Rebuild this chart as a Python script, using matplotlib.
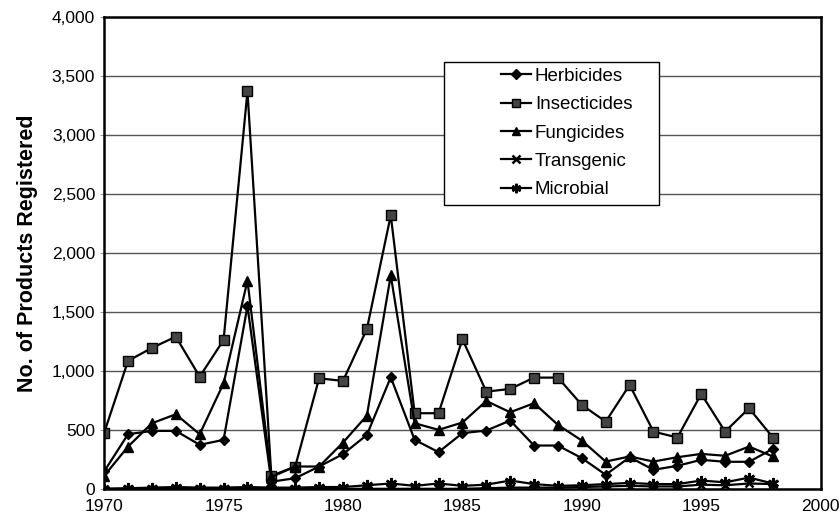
import matplotlib.pyplot as plt
import numpy as np
from matplotlib.ticker import FuncFormatter
from matplotlib.patches import Rectangle

plt.rcParams['font.family'] = ['Liberation Sans', 'DejaVu Sans']

# data
years = list(range(1970, 1999))
herbicides = [147, 463, 491, 491, 373, 415, 1550, 60, 90, 189, 294, 457,
              946, 415, 311, 472, 494, 579, 367, 367, 260, 119, 268, 161,
              195, 246, 229, 229, 339]
insecticides = [475, 1085, 1195, 1290, 951, 1262, 3371, 110, 189, 937, 915, 1355,
                2320, 641, 641, 1268, 824, 847, 943, 943, 711, 570, 881, 485,
                435, 805, 485, 683, 435]
fungicides = [110, 358, 556, 632, 463, 895, 1765, 100, 189, 189, 392, 621,
              1810, 556, 500, 562, 745, 649, 726, 542, 409, 231, 274, 231,
              268, 296, 280, 358, 274]
transgenic = [0, 0, 0, 0, 0, 0, 0, 0, 0, 0, 0, 0,
              0, 0, 0, 0, 5, 10, 10, 10, 15, 20, 25, 20,
              20, 35, 30, 45, 40]
microbial = [0, 5, 10, 15, 10, 10, 15, 10, 10, 15, 15, 30,
             45, 25, 45, 25, 35, 70, 40, 25, 30, 40, 50, 40,
             40, 70, 55, 95, 45]

fig = plt.figure(figsize=(8.4, 5.2), dpi=100)
ax = fig.add_axes([0.124, 0.06, 0.853, 0.907])

ax.plot(years, herbicides, color='black', lw=1.6, marker='D', ms=5.5, label='Herbicides')
ax.plot(years, insecticides, color='black', lw=1.6, marker='s', ms=7,
        markerfacecolor='#444444', markeredgecolor='black', label='Insecticides')
ax.plot(years, fungicides, color='black', lw=1.6, marker='^', ms=7, label='Fungicides')
ax.plot(years, transgenic, color='black', lw=1.6, marker='x', ms=6, mew=1.8, label='Transgenic')
ax.plot(years, microbial, color='black', lw=1.6, marker=(6, 2, 0), ms=8, mew=1.8, label='Microbial')

ax.set_xlim(1970, 2000)
ax.set_ylim(0, 4000)
ax.set_xticks(np.arange(1970, 2001, 5))
ax.set_yticks(np.arange(0, 4001, 500))
ax.yaxis.set_major_formatter(FuncFormatter(lambda v, p: '{:,.0f}'.format(v)))
ax.yaxis.grid(True, color='#555555', lw=1)
ax.set_axisbelow(True)
ax.tick_params(axis='both', labelsize=12.5, length=3, color='#999999')
ax.tick_params(axis='x', length=0, pad=7)
for s in ax.spines.values():
    s.set_linewidth(1.8)
    s.set_color('black')

ax.set_ylabel('No. of Products Registered', fontsize=15.5, fontweight='bold', labelpad=10)

# legend box drawn separately so the entries sit to its right like the original
ax.add_patch(Rectangle((0.474, 0.602), 0.301, 0.303, transform=ax.transAxes,
                       facecolor='white', edgecolor='black', lw=1.0, zorder=5))
leg = ax.legend(loc='upper left', bbox_to_anchor=(0.554, 0.893), fontsize=13.5,
                frameon=False, handlelength=1.6, borderpad=0, borderaxespad=0,
                labelspacing=0.6, handletextpad=0.2, markerscale=0.85)
leg.set_zorder(6)

fig.savefig('out.png', dpi=100)
